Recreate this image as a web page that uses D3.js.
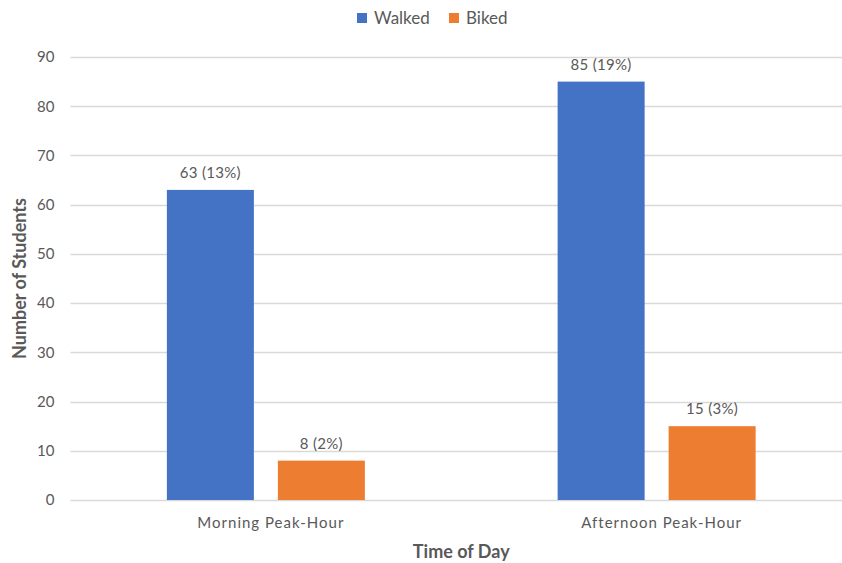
<!DOCTYPE html>
<html>
<head>
<meta charset="utf-8">
<script src="https://cdn.jsdelivr.net/npm/d3@7/dist/d3.min.js"></script>
<style>
  html, body { margin: 0; padding: 0; background: #fff; }
  svg { display: block; }
  text { font-family: Lato, "Open Sans", sans-serif; fill: #595959; }
</style>
</head>
<body>
<svg id="chart" width="842" height="563"></svg>
<script>
// Students counted by travel mode at each peak hour
const categories = ["Morning Peak-Hour", "Afternoon Peak-Hour"];
const seriesNames = ["Walked", "Biked"];
const walked = [63, 85];
const biked = [8, 15];
const walkedPct = ["13%", "19%"];
const bikedPct = ["2%", "3%"];
const yTicks = [0, 10, 20, 30, 40, 50, 60, 70, 80, 90];
const colors = { Walked: "#4472C4", Biked: "#ED7D31" };

const svg = d3.select("#chart");
const plot = { left: 70.5, right: 852, top: 57, bottom: 500 };

const y = d3.scaleLinear().domain([0, 90]).range([plot.bottom, plot.top]);
const x0 = d3.scaleBand().domain(categories).range([plot.left, plot.right]).padding(0);
const groupW = 198;
const x1 = d3.scaleBand().domain(seriesNames)
  .range([(x0.step() - groupW) / 2, (x0.step() + groupW) / 2])
  .paddingInner(24 / 111).paddingOuter(0);

// gridlines
svg.append("g").selectAll("line").data(yTicks).join("line")
  .attr("x1", plot.left).attr("x2", plot.right)
  .attr("y1", d => Math.round(y(d)) + 0.5).attr("y2", d => Math.round(y(d)) + 0.5)
  .attr("stroke", "#d9d9d9").attr("stroke-width", 1.3);

// y axis labels
const yAxis = d3.axisLeft(y).tickValues(yTicks).tickSize(0).tickPadding(0);
const gy = svg.append("g").attr("transform", `translate(${plot.left - 16},0)`).call(yAxis);
gy.select(".domain").remove();
gy.selectAll("text").attr("font-size", 15).style("fill", "#595959")
  .style("font-family", "Lato, sans-serif");

// bars
const rows = categories.map((c, i) => ({
  cat: c,
  items: [
    { name: "Walked", value: walked[i], pct: walkedPct[i] },
    { name: "Biked", value: biked[i], pct: bikedPct[i] }
  ]
}));

const groups = svg.append("g").selectAll("g").data(rows).join("g")
  .attr("transform", d => `translate(${x0(d.cat)},0)`);

groups.selectAll("rect").data(d => d.items).join("rect")
  .attr("x", d => x1(d.name))
  .attr("width", x1.bandwidth())
  .attr("y", d => y(d.value))
  .attr("height", d => y(0) - y(d.value))
  .attr("fill", d => colors[d.name]);

groups.selectAll("text.lbl").data(d => d.items).join("text")
  .attr("class", "lbl")
  .attr("x", d => x1(d.name) + x1.bandwidth() / 2)
  .attr("y", d => y(d.value) - 12)
  .attr("text-anchor", "middle")
  .attr("font-size", 15)
  .style("letter-spacing", "0.3px")
  .text(d => `${d.value} (${d.pct})`);

// category labels
const xAxis = d3.axisBottom(x0).tickSize(0).tickPadding(0);
const gx = svg.append("g").attr("transform", `translate(5,${plot.bottom + 28})`).call(xAxis);
gx.select(".domain").remove();
gx.selectAll("text").attr("font-size", 15).attr("dy", 0)
  .style("letter-spacing", "1px")
  .style("fill", "#595959").style("font-family", "Lato, sans-serif");

// axis titles
svg.append("text")
  .attr("x", (plot.left + plot.right) / 2).attr("y", 557.5)
  .attr("text-anchor", "middle").attr("font-size", 18).attr("font-weight", "bold")
  .text("Time of Day");

svg.append("text")
  .attr("transform", `translate(26,${(plot.top + plot.bottom) / 2}) rotate(-90)`)
  .attr("text-anchor", "middle").attr("font-size", 18).attr("font-weight", "bold")
  .text("Number of Students");

// legend
const legend = svg.append("g");
const legendX = [357, 449];
seriesNames.forEach((s, i) => {
  legend.append("rect").attr("x", legendX[i]).attr("y", 13).attr("width", 10).attr("height", 10)
    .attr("fill", colors[s]);
  legend.append("text").attr("x", legendX[i] + 17).attr("y", 24)
    .attr("font-size", 17).text(s);
});
</script>
</body>
</html>
